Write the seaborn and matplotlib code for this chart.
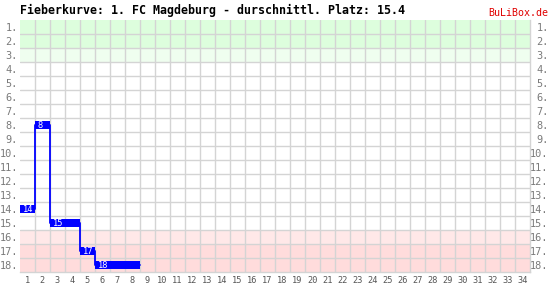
import matplotlib
matplotlib.use("Agg")
import matplotlib.pyplot as plt
import matplotlib.transforms as mtransforms
import seaborn as sns
import pandas as pd
import numpy as np

# ---- data ----
matchdays = [1, 2, 3, 4, 5, 6, 7, 8]
places = [14, 8, 15, 15, 17, 18, 18, 18]
all_matchdays = list(range(1, 35))
all_places = list(range(1, 19))
title = "Fieberkurve: 1. FC Magdeburg - durschnittl. Platz: 15.4"
brand = "BuLiBox.de"

sns.set_style("white")
plt.rcParams['font.family'] = ['DejaVu Sans Mono', 'DejaVu Sans']

W, H = 551, 286
fig = plt.figure(figsize=(W / 100, H / 100), dpi=100)
L, R, T, B = 20, 530, 20, 272
ax = fig.add_axes([L / W, 1 - B / H, (R - L) / W, (B - T) / H])

grid_c = '#d4d4d4'
grid_w = 1.0

# background bands
ax.axhspan(0.5, 2.5, color='#ddfedd', lw=0, zorder=0)
ax.axhspan(2.5, 3.5, color='#effeef', lw=0, zorder=0)
ax.axhspan(15.5, 16.5, color='#ffe8e8', lw=0, zorder=0)
ax.axhspan(16.5, 18.5, color='#ffdcdc', lw=0, zorder=0)

# step line
x_edges = [m - 0.5 for m in matchdays] + [matchdays[-1] + 0.5]
y_edges = places + [places[-1]]
df = pd.DataFrame({"x": x_edges, "y": y_edges})
sns.lineplot(data=df, x="x", y="y", ax=ax, drawstyle='steps-post',
             color='#0000ff', lw=1.3, zorder=3, estimator=None, sort=False)

# boxes for runs of equal places
i = 0
while i < len(places):
    j = i
    while j + 1 < len(places) and places[j + 1] == places[i]:
        j += 1
    n = j - i + 1
    left = matchdays[i] - 0.5
    ax.barh(y=places[i], width=n, left=left, height=0.58, color='#0000ff',
            zorder=4, lw=0)
    ax.text(left + 0.17, places[i] + 0.03, str(places[i]), color='white',
            fontsize=6.3, va='center', ha='left', zorder=5)
    i = j + 1

ax.set_xlim(0.5, 34.5)
ax.set_ylim(18.5, 0.5)

ax.set_xticks(all_matchdays)
ax.set_xticklabels([str(m) for m in all_matchdays])
ax.set_xticks(np.arange(1.5, 34.5, 1), minor=True)
ax.set_yticks(all_places)
ax.set_yticklabels([f"{p}." for p in all_places])
ax.set_yticks(np.arange(1.5, 18.5, 1), minor=True)

ax.grid(False)
ax.grid(which='minor', color=grid_c, lw=grid_w)
ax.set_axisbelow(False)

ax.tick_params(axis='x', which='major', length=0, labelsize=6.2,
               labelcolor='#555555', pad=3)
ax.tick_params(axis='x', which='minor', length=10, width=grid_w,
               color=grid_c, direction='out')
ax.tick_params(axis='y', which='both', length=0)
ax.tick_params(axis='y', which='major', labelsize=7.4, labelcolor='#7a7a7a',
               labelleft=True, labelright=True, pad=1.5)
offset = mtransforms.ScaledTranslation(16.5 / 100, 0, fig.dpi_scale_trans)
for tick in ax.yaxis.get_major_ticks():
    tick.label2.set_horizontalalignment('right')
    tick.label2.set_transform(tick.label2.get_transform() + offset)

for s in ['left', 'top']:
    ax.spines[s].set_visible(False)
for s in ['right', 'bottom']:
    ax.spines[s].set_color(grid_c)
    ax.spines[s].set_linewidth(grid_w)

ax.set_xlabel("")
ax.set_ylabel("")

fig.text(20 / W, 1 - 10.5 / H, title, fontsize=8.4, fontweight='bold',
         color='black', va='center', ha='left')
fig.text(548 / W, 1 - 12.5 / H, brand, fontsize=7.2, color='#e00000',
         va='center', ha='right')

fig.savefig("out.png", dpi=100)
